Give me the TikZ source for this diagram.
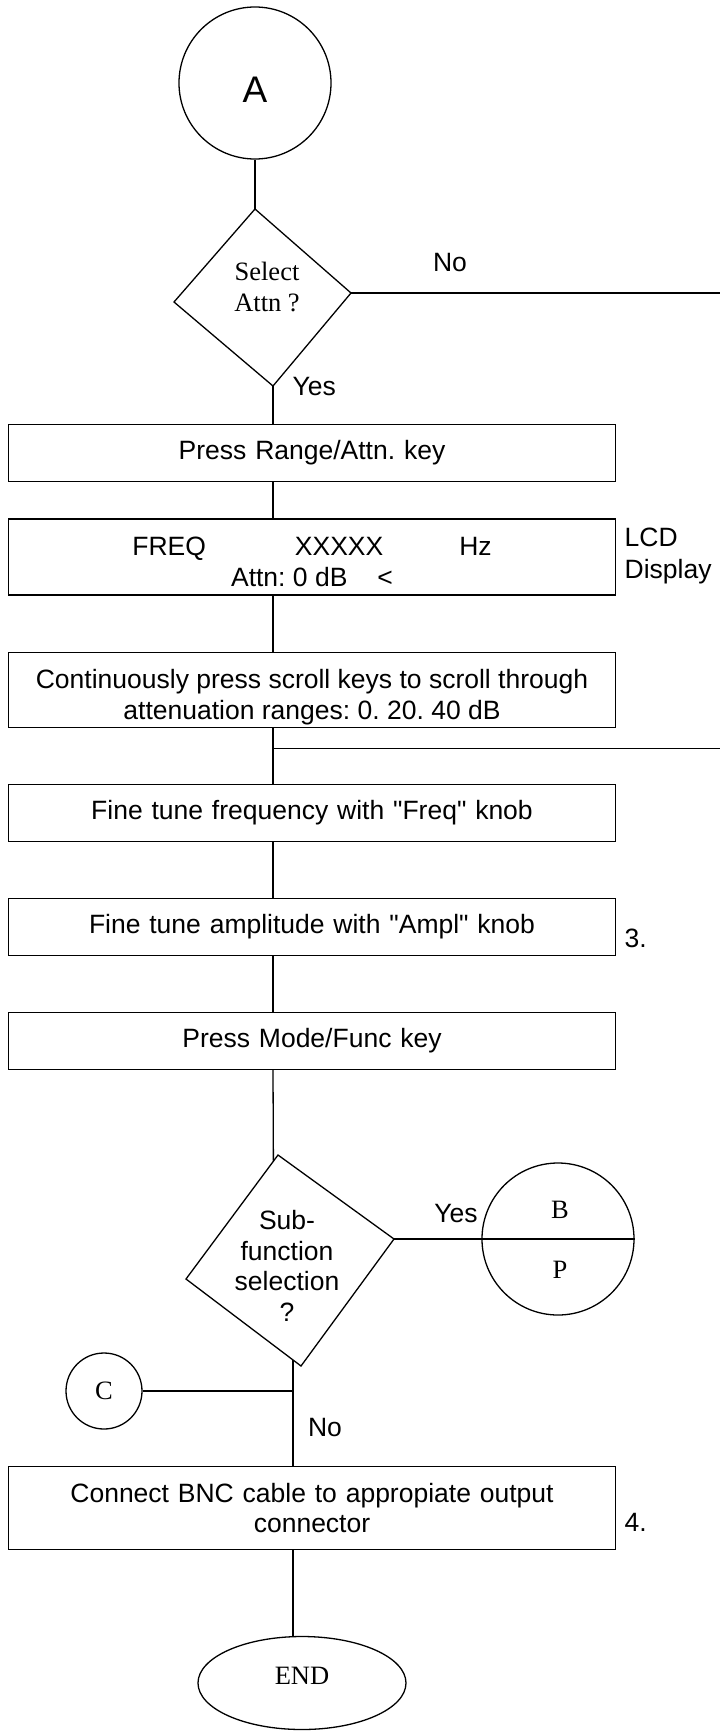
\documentclass[tikz,border=0pt]{standalone}
\usepackage{fontspec}
\setmainfont{Liberation Sans}[Ligatures=TeXOff]
\newfontfamily\seriffont{Liberation Serif}[Ligatures=TeXOff]
\usetikzlibrary{shapes.geometric,positioning,calc}
\frenchspacing

\begin{document}
\begin{tikzpicture}[x=1pt, y=-1pt, line width=1.3pt,
                    every node/.style={font=\fontsize{26.5}{30.5}\selectfont},
                    stepbox/.style={draw, rectangle, minimum width=607pt, text width=590pt, align=center, inner sep=0pt},
                    connector/.style={draw, circle, inner sep=0pt},
                    tnr/.style={font=\seriffont\fontsize{26.5}{31}\selectfont}
]
\useasboundingbox (0,0) rectangle (720,1731);
\coordinate (rim) at (720,0);

\node [connector, minimum size=152pt, text height=40pt, font=\fontsize{37}{40}\selectfont] at (255,83) (A) {A};
%
\coordinate (sa-t) at (255,209);
\coordinate (sa-l) at (174,302);
\coordinate (sa-r) at (351,293);
\coordinate (sa-b) at (273,386);
\draw (sa-t) -- (sa-r) -- (sa-b) -- (sa-l) -- cycle;
\node [tnr, align=center] at (267,287) (selattn) {Select\\Attn ?};
\draw (A) -- (sa-t);
\draw (sa-r) -- (sa-r -| rim);
\node at (450,263) (no1) {No};
\node [anchor=west, inner sep=0pt] at (292,387) (yes1) {Yes};
%
\node [stepbox, minimum height=57pt] at (312,453) (b1) {Press Range/Attn. key};
\node [stepbox, minimum height=76pt,
       label={[align=center, yshift=-5pt]center:FREQ\hspace{89pt}XXXXX\hspace{76pt}Hz\\Attn: 0 dB\hspace{30pt}<}] at (312,557) (b2) {};
\node [stepbox, minimum height=75pt,
       label={[align=center, yshift=-7pt]center:Continuously press scroll keys to scroll through\\attenuation ranges: 0. 20. 40 dB}] at (312,690) (b3) {};
\node [stepbox, minimum height=57pt] at (312,813) (b4) {Fine tune frequency with "Freq" knob};
\node [stepbox, minimum height=57pt] at (312,927) (b5) {Fine tune amplitude with "Ampl" knob};
\node [stepbox, minimum height=57pt] at (312,1041) (b6) {Press Mode/Func key};
\node [stepbox, minimum height=83pt] at (312,1508) (b7) {Connect BNC cable to appropiate output\\connector};
%
\node [anchor=west, align=left, inner sep=0pt, font=\fontsize{26.5}{32}\selectfont] at (624,556) (lcd) {LCD\\Display};
\node [anchor=west, inner sep=0pt] at (624,938) (n3) {3.};
\node [anchor=west, inner sep=0pt] at (624,1522) (n4) {4.};
%
\draw (sa-b) -- (sa-b |- b1.north);
\draw (b1.south -| sa-b) -- (b2.north -| sa-b);
\draw (b2.south -| sa-b) -- (b3.north -| sa-b);
\draw (b3.south -| sa-b) -- (b4.north -| sa-b);
\coordinate (br) at ($(b3.south -| sa-b)+(0,20)$);
\draw (br) -- (br -| rim);
\draw (b4.south -| sa-b) -- (b5.north -| sa-b);
\draw (b5.south -| sa-b) -- (b6.north -| sa-b);
%
\coordinate (sb-t) at (278,1155);
\coordinate (sb-l) at (186,1279);
\coordinate (sb-r) at (394,1239);
\coordinate (sb-b) at (301,1366);
\draw (sb-t) -- (sb-r) -- (sb-b) -- (sb-l) -- cycle;
\node [align=center] at (287,1266) (subfn) {Sub-\\function\\selection\\?};
\draw (b6.south -| sa-b) -- ($(sb-t)!.05!(sb-l)$);
%
\node [connector, minimum size=152pt] at (558,1239) (bp) {};
\draw (bp.west) -- (bp.east);
\node [tnr] at (560,1210) (bpB) {B};
\node [tnr] at (560,1270) (bpP) {P};
\draw (sb-r) -- (bp.west);
\node at (456,1213) (yes2) {Yes};
%
\node [connector, tnr, minimum size=76pt] at (104,1391) (C) {C};
\coordinate (jc) at ($(sb-l)!.93!(sb-b)$);
\draw (jc) -- (jc |- b7.north);
\draw (C) -- (C -| jc);
\node at (325,1427) (no2) {No};
%
\node [draw, ellipse, tnr, minimum width=208pt, minimum height=93pt, text depth=14pt] at (302,1683) (end) {END};
\draw (b7.south -| jc) -- (jc |- end.north);
\end{tikzpicture}
\end{document}
